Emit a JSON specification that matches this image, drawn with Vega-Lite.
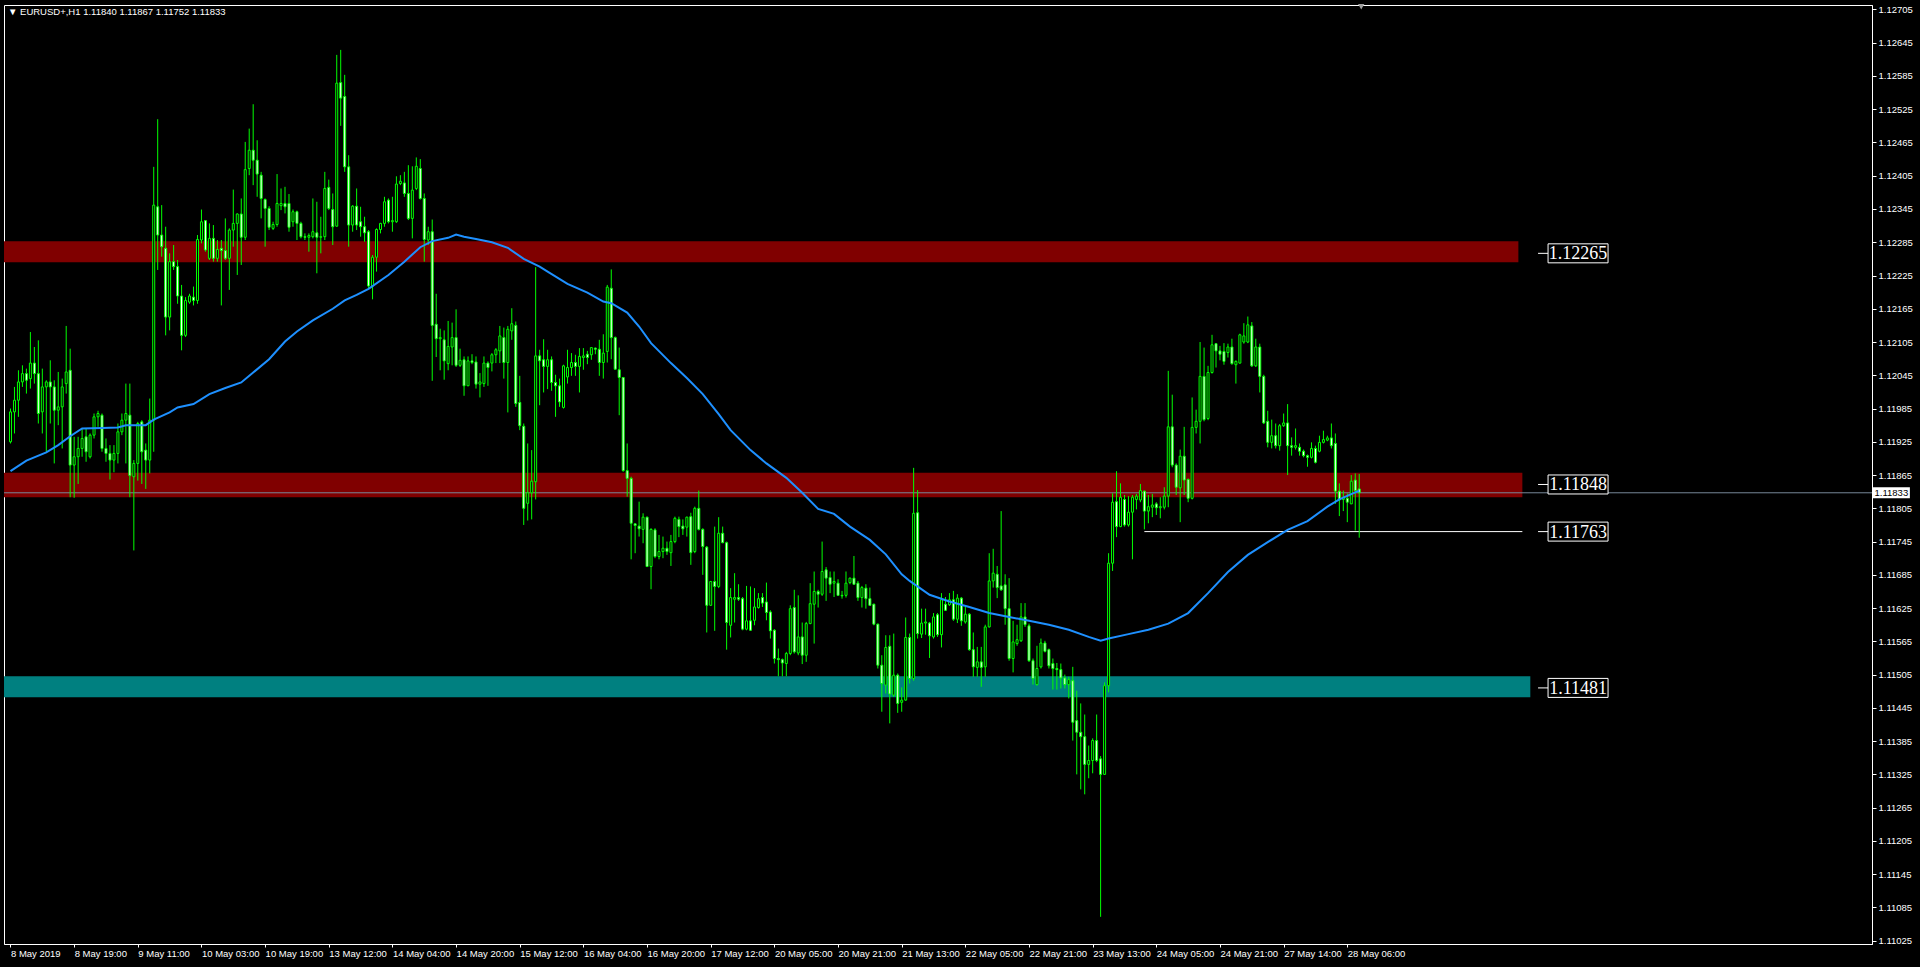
{
"$schema": "https://vega.github.io/schema/vega-lite/v6.json",
"width": 1868,
"height": 939,
"autosize": {"type": "none"},
"padding": {"left": 4, "top": 5, "right": 48, "bottom": 23},
"background": "#000000",
"config": {"view": {"stroke": "#ffffff", "strokeWidth": 1}, "font": "Liberation Sans",
 "axis": {"domainColor": "#ffffff", "tickColor": "#ffffff", "labelColor": "#ffffff", "labelFont": "Liberation Sans", "labelFontSize": 9.5, "grid": false, "labelOverlap": false, "titleOpacity": 0}},
"title": {"text": "▼ EURUSD+,H1 1.11840 1.11867 1.11752 1.11833", "anchor": "start", "frame": "group", "orient": "top", "offset": 0, "baseline": "middle", "dx": 4, "dy": 18, "color": "#ffffff", "font": "Liberation Sans", "fontSize": 9.5, "fontWeight": "normal"},
"datasets": {
"zones": [
{"kind": "resistance", "lo": 1.12249, "hi": 1.12287, "t1": -2, "t2": 379},
{"kind": "resistance", "lo": 1.11825, "hi": 1.11869, "t1": -2, "t2": 380},
{"kind": "support", "lo": 1.11464, "hi": 1.11502, "t1": -2, "t2": 382}
],
"lines": [{"t1": 285, "t2": 380, "p": 1.11763}],
"price": [{"p": 1.11833, "label": "1.11833"}],
"shift": [{"t": 339.5, "p": 1.1271}],
"tags": [
{"p": 1.12265, "label": "1.12265"},
{"p": 1.11848, "label": "1.11848"},
{"p": 1.11763, "label": "1.11763"},
{"p": 1.11481, "label": "1.11481"}
],
"ma": [
{"i":0,"v":1.11872},{"i":4,"v":1.11891},{"i":9,"v":1.11906},{"i":12,"v":1.11919},{"i":15,"v":1.11935},{"i":18,"v":1.11949},{"i":23,"v":1.11950},{"i":27,"v":1.11951},{"i":29,"v":1.11955},{"i":34,"v":1.11955},{"i":36,"v":1.11965},{"i":40,"v":1.11978},{"i":42,"v":1.11987},{"i":46,"v":1.11993},{"i":50,"v":1.12011},{"i":54,"v":1.12022},{"i":58,"v":1.12032},{"i":61,"v":1.12050},{"i":65,"v":1.12074},{"i":69,"v":1.12106},{"i":72,"v":1.12124},{"i":76,"v":1.12144},{"i":81,"v":1.12165},{"i":84,"v":1.12180},{"i":87,"v":1.12190},{"i":90,"v":1.12201},{"i":95,"v":1.12226},{"i":99,"v":1.12250},{"i":103,"v":1.12276},{"i":106,"v":1.12287},{"i":110,"v":1.12293},{"i":112,"v":1.12299},{"i":114,"v":1.12295},{"i":117,"v":1.12291},{"i":121,"v":1.12285},{"i":125,"v":1.12275},{"i":129,"v":1.12255},{"i":133,"v":1.12241},{"i":135,"v":1.12232},{"i":140,"v":1.12210},{"i":145,"v":1.12194},{"i":149,"v":1.12178},{"i":151,"v":1.12175},{"i":155,"v":1.12158},{"i":158,"v":1.12133},{"i":161,"v":1.12103},{"i":166,"v":1.12067},{"i":170,"v":1.12040},{"i":174,"v":1.12011},{"i":178,"v":1.11975},{"i":181,"v":1.11946},{"i":186,"v":1.11910},{"i":190,"v":1.11886},{"i":195,"v":1.11860},{"i":199,"v":1.11833},{"i":203,"v":1.11804},{"i":207,"v":1.11795},{"i":211,"v":1.11772},{"i":216,"v":1.11748},{"i":220,"v":1.11722},{"i":224,"v":1.11686},{"i":226,"v":1.11674},{"i":231,"v":1.11649},{"i":236,"v":1.11637},{"i":241,"v":1.11627},{"i":246,"v":1.11616},{"i":251,"v":1.11609},{"i":256,"v":1.11602},{"i":261,"v":1.11595},{"i":266,"v":1.11586},{"i":271,"v":1.11573},{"i":274,"v":1.11566},{"i":276,"v":1.11570},{"i":281,"v":1.11578},{"i":286,"v":1.11586},{"i":291,"v":1.11597},{"i":296,"v":1.11616},{"i":301,"v":1.11652},{"i":306,"v":1.11690},{"i":311,"v":1.11721},{"i":316,"v":1.11744},{"i":321,"v":1.11766},{"i":326,"v":1.11782},{"i":331,"v":1.11808},{"i":334,"v":1.11821},{"i":339,"v":1.11837}
],
"bars": [
{"i":0,"o":1.11925,"h":1.11985,"l":1.11922,"c":1.11979},
{"i":1,"o":1.11979,"h":1.12024,"l":1.11940,"c":1.12000},
{"i":2,"o":1.12000,"h":1.12054,"l":1.11970,"c":1.12033},
{"i":3,"o":1.12033,"h":1.12063,"l":1.12024,"c":1.12048},
{"i":4,"o":1.12048,"h":1.12057,"l":1.12012,"c":1.12036},
{"i":5,"o":1.12039,"h":1.12123,"l":1.12021,"c":1.12067},
{"i":6,"o":1.12067,"h":1.12096,"l":1.12030,"c":1.12048},
{"i":7,"o":1.12048,"h":1.12108,"l":1.11958,"c":1.11976},
{"i":8,"o":1.11979,"h":1.12057,"l":1.11940,"c":1.12024},
{"i":9,"o":1.12024,"h":1.12036,"l":1.11907,"c":1.12033},
{"i":10,"o":1.12033,"h":1.12072,"l":1.11958,"c":1.12024},
{"i":11,"o":1.12024,"h":1.12036,"l":1.11886,"c":1.11982},
{"i":12,"o":1.11982,"h":1.12051,"l":1.11955,"c":1.11988},
{"i":13,"o":1.11988,"h":1.12039,"l":1.11913,"c":1.12024},
{"i":14,"o":1.12030,"h":1.12134,"l":1.12012,"c":1.12051},
{"i":15,"o":1.12054,"h":1.12093,"l":1.11825,"c":1.11883},
{"i":16,"o":1.11883,"h":1.11934,"l":1.11824,"c":1.11898},
{"i":17,"o":1.11898,"h":1.11934,"l":1.11849,"c":1.11913},
{"i":18,"o":1.11913,"h":1.11949,"l":1.11898,"c":1.11931},
{"i":19,"o":1.11934,"h":1.11949,"l":1.11889,"c":1.11907},
{"i":20,"o":1.11898,"h":1.11940,"l":1.11895,"c":1.11937},
{"i":21,"o":1.11937,"h":1.11976,"l":1.11931,"c":1.11970},
{"i":22,"o":1.11970,"h":1.11981,"l":1.11952,"c":1.11976},
{"i":23,"o":1.11973,"h":1.11976,"l":1.11907,"c":1.11913},
{"i":24,"o":1.11913,"h":1.11931,"l":1.11889,"c":1.11904},
{"i":25,"o":1.11904,"h":1.11919,"l":1.11857,"c":1.11892},
{"i":26,"o":1.11892,"h":1.11919,"l":1.11870,"c":1.11904},
{"i":27,"o":1.11904,"h":1.11958,"l":1.11886,"c":1.11943},
{"i":28,"o":1.11943,"h":1.11976,"l":1.11937,"c":1.11964},
{"i":29,"o":1.11964,"h":1.12030,"l":1.11886,"c":1.11976},
{"i":30,"o":1.11973,"h":1.12030,"l":1.11825,"c":1.11864},
{"i":31,"o":1.11862,"h":1.11892,"l":1.11729,"c":1.11886},
{"i":32,"o":1.11886,"h":1.11961,"l":1.11855,"c":1.11958},
{"i":33,"o":1.11961,"h":1.11964,"l":1.11849,"c":1.11907},
{"i":34,"o":1.11910,"h":1.11922,"l":1.11840,"c":1.11892},
{"i":35,"o":1.11892,"h":1.12003,"l":1.11868,"c":1.11964},
{"i":36,"o":1.11964,"h":1.12421,"l":1.11907,"c":1.12352},
{"i":37,"o":1.12349,"h":1.12507,"l":1.12235,"c":1.12298},
{"i":38,"o":1.12298,"h":1.12352,"l":1.12259,"c":1.12277},
{"i":39,"o":1.12274,"h":1.12313,"l":1.12117,"c":1.12150},
{"i":40,"o":1.12150,"h":1.12265,"l":1.12126,"c":1.12250},
{"i":41,"o":1.12250,"h":1.12280,"l":1.12235,"c":1.12241},
{"i":42,"o":1.12241,"h":1.12253,"l":1.12174,"c":1.12188},
{"i":43,"o":1.12188,"h":1.12208,"l":1.12090,"c":1.12117},
{"i":44,"o":1.12117,"h":1.12186,"l":1.12114,"c":1.12180},
{"i":45,"o":1.12177,"h":1.12192,"l":1.12174,"c":1.12188},
{"i":46,"o":1.12186,"h":1.12205,"l":1.12171,"c":1.12180},
{"i":47,"o":1.12180,"h":1.12298,"l":1.12174,"c":1.12290},
{"i":48,"o":1.12289,"h":1.12344,"l":1.12283,"c":1.12322},
{"i":49,"o":1.12324,"h":1.12325,"l":1.12268,"c":1.12271},
{"i":50,"o":1.12256,"h":1.12319,"l":1.12253,"c":1.12292},
{"i":51,"o":1.12292,"h":1.12316,"l":1.12250,"c":1.12256},
{"i":52,"o":1.12256,"h":1.12289,"l":1.12250,"c":1.12272},
{"i":53,"o":1.12274,"h":1.12289,"l":1.12171,"c":1.12270},
{"i":54,"o":1.12270,"h":1.12328,"l":1.12253,"c":1.12256},
{"i":55,"o":1.12256,"h":1.12310,"l":1.12199,"c":1.12307},
{"i":56,"o":1.12307,"h":1.12380,"l":1.12277,"c":1.12319},
{"i":57,"o":1.12319,"h":1.12337,"l":1.12226,"c":1.12336},
{"i":58,"o":1.12336,"h":1.12364,"l":1.12244,"c":1.12294},
{"i":59,"o":1.12294,"h":1.12466,"l":1.12289,"c":1.12416},
{"i":60,"o":1.12418,"h":1.12490,"l":1.12406,"c":1.12451},
{"i":61,"o":1.12451,"h":1.12534,"l":1.12388,"c":1.12433},
{"i":62,"o":1.12433,"h":1.12469,"l":1.12367,"c":1.12408},
{"i":63,"o":1.12406,"h":1.12412,"l":1.12328,"c":1.12364},
{"i":64,"o":1.12362,"h":1.12364,"l":1.12277,"c":1.12346},
{"i":65,"o":1.12346,"h":1.12350,"l":1.12307,"c":1.12312},
{"i":66,"o":1.12310,"h":1.12322,"l":1.12307,"c":1.12317},
{"i":67,"o":1.12317,"h":1.12408,"l":1.12313,"c":1.12355},
{"i":68,"o":1.12351,"h":1.12382,"l":1.12343,"c":1.12355},
{"i":69,"o":1.12355,"h":1.12385,"l":1.12337,"c":1.12349},
{"i":70,"o":1.12355,"h":1.12372,"l":1.12304,"c":1.12312},
{"i":71,"o":1.12322,"h":1.12344,"l":1.12313,"c":1.12340},
{"i":72,"o":1.12340,"h":1.12342,"l":1.12289,"c":1.12319},
{"i":73,"o":1.12319,"h":1.12322,"l":1.12292,"c":1.12295},
{"i":74,"o":1.12295,"h":1.12301,"l":1.12289,"c":1.12294},
{"i":75,"o":1.12294,"h":1.12301,"l":1.12268,"c":1.12297},
{"i":76,"o":1.12295,"h":1.12364,"l":1.12292,"c":1.12304},
{"i":77,"o":1.12302,"h":1.12358,"l":1.12229,"c":1.12294},
{"i":78,"o":1.12294,"h":1.12331,"l":1.12265,"c":1.12295},
{"i":79,"o":1.12295,"h":1.12412,"l":1.12289,"c":1.12382},
{"i":80,"o":1.12384,"h":1.12398,"l":1.12343,"c":1.12346},
{"i":81,"o":1.12344,"h":1.12373,"l":1.12280,"c":1.12313},
{"i":82,"o":1.12314,"h":1.12623,"l":1.12313,"c":1.12572},
{"i":83,"o":1.12573,"h":1.12632,"l":1.12495,"c":1.12545},
{"i":84,"o":1.12548,"h":1.12587,"l":1.12412,"c":1.12421},
{"i":85,"o":1.12421,"h":1.12442,"l":1.12277,"c":1.12316},
{"i":86,"o":1.12316,"h":1.12352,"l":1.12304,"c":1.12350},
{"i":87,"o":1.12350,"h":1.12382,"l":1.12307,"c":1.12316},
{"i":88,"o":1.12322,"h":1.12349,"l":1.12295,"c":1.12313},
{"i":89,"o":1.12313,"h":1.12331,"l":1.12286,"c":1.12302},
{"i":90,"o":1.12304,"h":1.12307,"l":1.12202,"c":1.12206},
{"i":91,"o":1.12206,"h":1.12262,"l":1.12182,"c":1.12258},
{"i":92,"o":1.12258,"h":1.12310,"l":1.12232,"c":1.12308},
{"i":93,"o":1.12308,"h":1.12320,"l":1.12301,"c":1.12319},
{"i":94,"o":1.12319,"h":1.12367,"l":1.12313,"c":1.12358},
{"i":95,"o":1.12361,"h":1.12364,"l":1.12319,"c":1.12322},
{"i":96,"o":1.12322,"h":1.12367,"l":1.12304,"c":1.12324},
{"i":97,"o":1.12322,"h":1.12404,"l":1.12320,"c":1.12390},
{"i":98,"o":1.12391,"h":1.12406,"l":1.12388,"c":1.12395},
{"i":99,"o":1.12392,"h":1.12412,"l":1.12367,"c":1.12373},
{"i":100,"o":1.12373,"h":1.12424,"l":1.12325,"c":1.12328},
{"i":101,"o":1.12328,"h":1.12422,"l":1.12292,"c":1.12379},
{"i":102,"o":1.12382,"h":1.12438,"l":1.12379,"c":1.12422},
{"i":103,"o":1.12418,"h":1.12435,"l":1.12362,"c":1.12364},
{"i":104,"o":1.12364,"h":1.12373,"l":1.12250,"c":1.12290},
{"i":105,"o":1.12289,"h":1.12313,"l":1.12280,"c":1.12304},
{"i":106,"o":1.12304,"h":1.12326,"l":1.12035,"c":1.12135},
{"i":107,"o":1.12137,"h":1.12192,"l":1.12078,"c":1.12111},
{"i":108,"o":1.12111,"h":1.12129,"l":1.12054,"c":1.12113},
{"i":109,"o":1.12109,"h":1.12126,"l":1.12037,"c":1.12071},
{"i":110,"o":1.12066,"h":1.12143,"l":1.12054,"c":1.12097},
{"i":111,"o":1.12096,"h":1.12140,"l":1.12063,"c":1.12113},
{"i":112,"o":1.12113,"h":1.12164,"l":1.12060,"c":1.12063},
{"i":113,"o":1.12063,"h":1.12093,"l":1.12060,"c":1.12072},
{"i":114,"o":1.12073,"h":1.12079,"l":1.12008,"c":1.12026},
{"i":115,"o":1.12026,"h":1.12079,"l":1.12026,"c":1.12071},
{"i":116,"o":1.12071,"h":1.12083,"l":1.12065,"c":1.12068},
{"i":117,"o":1.12069,"h":1.12079,"l":1.12021,"c":1.12029},
{"i":118,"o":1.12029,"h":1.12049,"l":1.12005,"c":1.12033},
{"i":119,"o":1.12030,"h":1.12079,"l":1.12024,"c":1.12067},
{"i":120,"o":1.12067,"h":1.12070,"l":1.12026,"c":1.12059},
{"i":121,"o":1.12067,"h":1.12085,"l":1.12052,"c":1.12082},
{"i":122,"o":1.12082,"h":1.12094,"l":1.12067,"c":1.12091},
{"i":123,"o":1.12089,"h":1.12134,"l":1.12067,"c":1.12116},
{"i":124,"o":1.12113,"h":1.12131,"l":1.12039,"c":1.12068},
{"i":125,"o":1.12068,"h":1.12134,"l":1.11978,"c":1.12128},
{"i":126,"o":1.12125,"h":1.12166,"l":1.12109,"c":1.12138},
{"i":127,"o":1.12135,"h":1.12142,"l":1.11988,"c":1.11994},
{"i":128,"o":1.11996,"h":1.12044,"l":1.11946,"c":1.11954},
{"i":129,"o":1.11953,"h":1.11958,"l":1.11775,"c":1.11805},
{"i":130,"o":1.11814,"h":1.11922,"l":1.11783,"c":1.11833},
{"i":131,"o":1.11833,"h":1.11910,"l":1.11785,"c":1.11854},
{"i":132,"o":1.11853,"h":1.12240,"l":1.11821,"c":1.12080},
{"i":133,"o":1.12080,"h":1.12091,"l":1.11991,"c":1.12071},
{"i":134,"o":1.12073,"h":1.12110,"l":1.12014,"c":1.12061},
{"i":135,"o":1.12061,"h":1.12091,"l":1.12020,"c":1.12073},
{"i":136,"o":1.12073,"h":1.12079,"l":1.12017,"c":1.12032},
{"i":137,"o":1.12032,"h":1.12046,"l":1.11970,"c":1.12026},
{"i":138,"o":1.12026,"h":1.12039,"l":1.11988,"c":1.11997},
{"i":139,"o":1.11987,"h":1.12064,"l":1.11985,"c":1.12062},
{"i":140,"o":1.12042,"h":1.12091,"l":1.12030,"c":1.12059},
{"i":141,"o":1.12059,"h":1.12085,"l":1.12044,"c":1.12068},
{"i":142,"o":1.12068,"h":1.12082,"l":1.12044,"c":1.12061},
{"i":143,"o":1.12061,"h":1.12094,"l":1.12014,"c":1.12079},
{"i":144,"o":1.12077,"h":1.12094,"l":1.12055,"c":1.12080},
{"i":145,"o":1.12083,"h":1.12089,"l":1.12065,"c":1.12077},
{"i":146,"o":1.12082,"h":1.12095,"l":1.12073,"c":1.12095},
{"i":147,"o":1.12094,"h":1.12095,"l":1.12083,"c":1.12092},
{"i":148,"o":1.12092,"h":1.12109,"l":1.12044,"c":1.12068},
{"i":149,"o":1.12068,"h":1.12119,"l":1.12039,"c":1.12085},
{"i":150,"o":1.12088,"h":1.12208,"l":1.12068,"c":1.12204},
{"i":151,"o":1.12202,"h":1.12236,"l":1.12074,"c":1.12113},
{"i":152,"o":1.12113,"h":1.12115,"l":1.12055,"c":1.12056},
{"i":153,"o":1.12055,"h":1.12095,"l":1.11973,"c":1.12041},
{"i":154,"o":1.12041,"h":1.12042,"l":1.11871,"c":1.11873},
{"i":155,"o":1.11873,"h":1.11922,"l":1.11826,"c":1.11859},
{"i":156,"o":1.11859,"h":1.11862,"l":1.11713,"c":1.11778},
{"i":157,"o":1.11777,"h":1.11778,"l":1.11724,"c":1.11774},
{"i":158,"o":1.11773,"h":1.11817,"l":1.11754,"c":1.11768},
{"i":159,"o":1.11767,"h":1.11796,"l":1.11742,"c":1.11789},
{"i":160,"o":1.11789,"h":1.11790,"l":1.11699,"c":1.11700},
{"i":161,"o":1.11700,"h":1.11769,"l":1.11659,"c":1.11767},
{"i":162,"o":1.11766,"h":1.11769,"l":1.11715,"c":1.11718},
{"i":163,"o":1.11718,"h":1.11757,"l":1.11713,"c":1.11727},
{"i":164,"o":1.11727,"h":1.11754,"l":1.11715,"c":1.11733},
{"i":165,"o":1.11733,"h":1.11745,"l":1.11721,"c":1.11727},
{"i":166,"o":1.11725,"h":1.11757,"l":1.11701,"c":1.11745},
{"i":167,"o":1.11745,"h":1.11790,"l":1.11742,"c":1.11787},
{"i":168,"o":1.11785,"h":1.11790,"l":1.11753,"c":1.11772},
{"i":169,"o":1.11773,"h":1.11785,"l":1.11757,"c":1.11768},
{"i":170,"o":1.11771,"h":1.11790,"l":1.11754,"c":1.11789},
{"i":171,"o":1.11790,"h":1.11797,"l":1.11703,"c":1.11725},
{"i":172,"o":1.11727,"h":1.11808,"l":1.11724,"c":1.11805},
{"i":173,"o":1.11805,"h":1.11837,"l":1.11765,"c":1.11767},
{"i":174,"o":1.11767,"h":1.11769,"l":1.11685,"c":1.11736},
{"i":175,"o":1.11735,"h":1.11737,"l":1.11581,"c":1.11630},
{"i":176,"o":1.11630,"h":1.11674,"l":1.11629,"c":1.11673},
{"i":177,"o":1.11673,"h":1.11772,"l":1.11584,"c":1.11664},
{"i":178,"o":1.11664,"h":1.11789,"l":1.11661,"c":1.11760},
{"i":179,"o":1.11760,"h":1.11772,"l":1.11742,"c":1.11743},
{"i":180,"o":1.11743,"h":1.11745,"l":1.11550,"c":1.11599},
{"i":181,"o":1.11594,"h":1.11661,"l":1.11572,"c":1.11644},
{"i":182,"o":1.11641,"h":1.11688,"l":1.11599,"c":1.11644},
{"i":183,"o":1.11644,"h":1.11668,"l":1.11638,"c":1.11641},
{"i":184,"o":1.11642,"h":1.11645,"l":1.11585,"c":1.11587},
{"i":185,"o":1.11587,"h":1.11665,"l":1.11585,"c":1.11602},
{"i":186,"o":1.11602,"h":1.11664,"l":1.11584,"c":1.11585},
{"i":187,"o":1.11603,"h":1.11661,"l":1.11594,"c":1.11627},
{"i":188,"o":1.11626,"h":1.11652,"l":1.11624,"c":1.11642},
{"i":189,"o":1.11644,"h":1.11652,"l":1.11627,"c":1.11634},
{"i":190,"o":1.11636,"h":1.11671,"l":1.11603,"c":1.11617},
{"i":191,"o":1.11618,"h":1.11621,"l":1.11570,"c":1.11584},
{"i":192,"o":1.11585,"h":1.11587,"l":1.11525,"c":1.11534},
{"i":193,"o":1.11534,"h":1.11552,"l":1.11502,"c":1.11532},
{"i":194,"o":1.11532,"h":1.11534,"l":1.11502,"c":1.11526},
{"i":195,"o":1.11525,"h":1.11546,"l":1.11502,"c":1.11543},
{"i":196,"o":1.11543,"h":1.11630,"l":1.11540,"c":1.11624},
{"i":197,"o":1.11626,"h":1.11658,"l":1.11543,"c":1.11546},
{"i":198,"o":1.11544,"h":1.11648,"l":1.11540,"c":1.11573},
{"i":199,"o":1.11573,"h":1.11599,"l":1.11524,"c":1.11540},
{"i":200,"o":1.11540,"h":1.11600,"l":1.11528,"c":1.11597},
{"i":201,"o":1.11597,"h":1.11670,"l":1.11596,"c":1.11633},
{"i":202,"o":1.11632,"h":1.11691,"l":1.11561,"c":1.11655},
{"i":203,"o":1.11655,"h":1.11658,"l":1.11626,"c":1.11650},
{"i":204,"o":1.11650,"h":1.11745,"l":1.11647,"c":1.11691},
{"i":205,"o":1.11694,"h":1.11699,"l":1.11638,"c":1.11679},
{"i":206,"o":1.11680,"h":1.11691,"l":1.11652,"c":1.11668},
{"i":207,"o":1.11670,"h":1.11691,"l":1.11645,"c":1.11673},
{"i":208,"o":1.11670,"h":1.11677,"l":1.11647,"c":1.11648},
{"i":209,"o":1.11648,"h":1.11656,"l":1.11642,"c":1.11647},
{"i":210,"o":1.11648,"h":1.11691,"l":1.11644,"c":1.11670},
{"i":211,"o":1.11671,"h":1.11680,"l":1.11668,"c":1.11679},
{"i":212,"o":1.11679,"h":1.11719,"l":1.11667,"c":1.11668},
{"i":213,"o":1.11670,"h":1.11674,"l":1.11638,"c":1.11644},
{"i":214,"o":1.11644,"h":1.11665,"l":1.11626,"c":1.11662},
{"i":215,"o":1.11661,"h":1.11668,"l":1.11624,"c":1.11642},
{"i":216,"o":1.11642,"h":1.11662,"l":1.11629,"c":1.11630},
{"i":217,"o":1.11632,"h":1.11633,"l":1.11594,"c":1.11596},
{"i":218,"o":1.11596,"h":1.11597,"l":1.11516,"c":1.11522},
{"i":219,"o":1.11522,"h":1.11540,"l":1.11438,"c":1.11489},
{"i":220,"o":1.11486,"h":1.11576,"l":1.11471,"c":1.11554},
{"i":221,"o":1.11556,"h":1.11576,"l":1.11417,"c":1.11470},
{"i":222,"o":1.11468,"h":1.11579,"l":1.11465,"c":1.11504},
{"i":223,"o":1.11504,"h":1.11507,"l":1.11436,"c":1.11453},
{"i":224,"o":1.11455,"h":1.11482,"l":1.11438,"c":1.11459},
{"i":225,"o":1.11459,"h":1.11608,"l":1.11458,"c":1.11572},
{"i":226,"o":1.11572,"h":1.11579,"l":1.11489,"c":1.11498},
{"i":227,"o":1.11498,"h":1.11878,"l":1.11494,"c":1.11796},
{"i":228,"o":1.11797,"h":1.11838,"l":1.11570,"c":1.11579},
{"i":229,"o":1.11578,"h":1.11624,"l":1.11571,"c":1.11598},
{"i":230,"o":1.11598,"h":1.11624,"l":1.11577,"c":1.11600},
{"i":231,"o":1.11598,"h":1.11600,"l":1.11535,"c":1.11575},
{"i":232,"o":1.11573,"h":1.11616,"l":1.11570,"c":1.11609},
{"i":233,"o":1.11613,"h":1.11616,"l":1.11573,"c":1.11577},
{"i":234,"o":1.11577,"h":1.11652,"l":1.11554,"c":1.11640},
{"i":235,"o":1.11632,"h":1.11645,"l":1.11620,"c":1.11621},
{"i":236,"o":1.11631,"h":1.11652,"l":1.11629,"c":1.11640},
{"i":237,"o":1.11640,"h":1.11656,"l":1.11602,"c":1.11605},
{"i":238,"o":1.11605,"h":1.11650,"l":1.11598,"c":1.11643},
{"i":239,"o":1.11643,"h":1.11645,"l":1.11593,"c":1.11602},
{"i":240,"o":1.11600,"h":1.11627,"l":1.11597,"c":1.11614},
{"i":241,"o":1.11614,"h":1.11616,"l":1.11548,"c":1.11550},
{"i":242,"o":1.11550,"h":1.11581,"l":1.11501,"c":1.11519},
{"i":243,"o":1.11518,"h":1.11555,"l":1.11501,"c":1.11528},
{"i":244,"o":1.11528,"h":1.11555,"l":1.11483,"c":1.11518},
{"i":245,"o":1.11519,"h":1.11595,"l":1.11501,"c":1.11591},
{"i":246,"o":1.11591,"h":1.11724,"l":1.11590,"c":1.11674},
{"i":247,"o":1.11674,"h":1.11732,"l":1.11662,"c":1.11688},
{"i":248,"o":1.11686,"h":1.11701,"l":1.11643,"c":1.11662},
{"i":249,"o":1.11665,"h":1.11800,"l":1.11656,"c":1.11658},
{"i":250,"o":1.11667,"h":1.11686,"l":1.11595,"c":1.11624},
{"i":251,"o":1.11624,"h":1.11679,"l":1.11530,"c":1.11534},
{"i":252,"o":1.11534,"h":1.11602,"l":1.11509,"c":1.11564},
{"i":253,"o":1.11561,"h":1.11595,"l":1.11557,"c":1.11568},
{"i":254,"o":1.11566,"h":1.11634,"l":1.11564,"c":1.11609},
{"i":255,"o":1.11609,"h":1.11634,"l":1.11591,"c":1.11595},
{"i":256,"o":1.11593,"h":1.11597,"l":1.11528,"c":1.11530},
{"i":257,"o":1.11530,"h":1.11534,"l":1.11487,"c":1.11498},
{"i":258,"o":1.11487,"h":1.11557,"l":1.11485,"c":1.11516},
{"i":259,"o":1.11519,"h":1.11570,"l":1.11516,"c":1.11562},
{"i":260,"o":1.11562,"h":1.11566,"l":1.11545,"c":1.11547},
{"i":261,"o":1.11550,"h":1.11552,"l":1.11516,"c":1.11521},
{"i":262,"o":1.11525,"h":1.11534,"l":1.11478,"c":1.11516},
{"i":263,"o":1.11516,"h":1.11526,"l":1.11478,"c":1.11514},
{"i":264,"o":1.11514,"h":1.11525,"l":1.11480,"c":1.11499},
{"i":265,"o":1.11499,"h":1.11505,"l":1.11480,"c":1.11487},
{"i":266,"o":1.11487,"h":1.11501,"l":1.11462,"c":1.11496},
{"i":267,"o":1.11494,"h":1.11519,"l":1.11386,"c":1.11419},
{"i":268,"o":1.11422,"h":1.11476,"l":1.11325,"c":1.11401},
{"i":269,"o":1.11401,"h":1.11453,"l":1.11298,"c":1.11393},
{"i":270,"o":1.11393,"h":1.11433,"l":1.11289,"c":1.11343},
{"i":271,"o":1.11343,"h":1.11377,"l":1.11318,"c":1.11350},
{"i":272,"o":1.11350,"h":1.11390,"l":1.11327,"c":1.11386},
{"i":273,"o":1.11386,"h":1.11433,"l":1.11347,"c":1.11350},
{"i":274,"o":1.11353,"h":1.11358,"l":1.11068,"c":1.11325},
{"i":275,"o":1.11325,"h":1.11491,"l":1.11324,"c":1.11485},
{"i":276,"o":1.11485,"h":1.11724,"l":1.11473,"c":1.11706},
{"i":277,"o":1.11706,"h":1.11832,"l":1.11692,"c":1.11816},
{"i":278,"o":1.11817,"h":1.11872,"l":1.11753,"c":1.11772},
{"i":279,"o":1.11772,"h":1.11850,"l":1.11771,"c":1.11825},
{"i":280,"o":1.11821,"h":1.11829,"l":1.11772,"c":1.11775},
{"i":281,"o":1.11775,"h":1.11827,"l":1.11772,"c":1.11798},
{"i":282,"o":1.11798,"h":1.11829,"l":1.11713,"c":1.11825},
{"i":283,"o":1.11821,"h":1.11831,"l":1.11803,"c":1.11827},
{"i":284,"o":1.11820,"h":1.11849,"l":1.11816,"c":1.11837},
{"i":285,"o":1.11836,"h":1.11837,"l":1.11767,"c":1.11800},
{"i":286,"o":1.11800,"h":1.11829,"l":1.11778,"c":1.11808},
{"i":287,"o":1.11807,"h":1.11831,"l":1.11789,"c":1.11811},
{"i":288,"o":1.11813,"h":1.11816,"l":1.11793,"c":1.11806},
{"i":289,"o":1.11806,"h":1.11825,"l":1.11787,"c":1.11808},
{"i":290,"o":1.11807,"h":1.11843,"l":1.11803,"c":1.11827},
{"i":291,"o":1.11827,"h":1.12053,"l":1.11807,"c":1.11952},
{"i":292,"o":1.11952,"h":1.12010,"l":1.11879,"c":1.11883},
{"i":293,"o":1.11883,"h":1.11886,"l":1.11829,"c":1.11843},
{"i":294,"o":1.11842,"h":1.11911,"l":1.11780,"c":1.11899},
{"i":295,"o":1.11899,"h":1.11952,"l":1.11829,"c":1.11856},
{"i":296,"o":1.11857,"h":1.11859,"l":1.11816,"c":1.11823},
{"i":297,"o":1.11823,"h":1.12005,"l":1.11821,"c":1.11951},
{"i":298,"o":1.11951,"h":1.11983,"l":1.11940,"c":1.11962},
{"i":299,"o":1.11962,"h":1.12105,"l":1.11922,"c":1.12043},
{"i":300,"o":1.12043,"h":1.12095,"l":1.11962,"c":1.11965},
{"i":301,"o":1.11967,"h":1.12062,"l":1.11964,"c":1.12050},
{"i":302,"o":1.12050,"h":1.12118,"l":1.12048,"c":1.12100},
{"i":303,"o":1.12102,"h":1.12103,"l":1.12059,"c":1.12089},
{"i":304,"o":1.12089,"h":1.12098,"l":1.12072,"c":1.12083},
{"i":305,"o":1.12088,"h":1.12103,"l":1.12064,"c":1.12070},
{"i":306,"o":1.12086,"h":1.12102,"l":1.12077,"c":1.12096},
{"i":307,"o":1.12096,"h":1.12111,"l":1.12064,"c":1.12066},
{"i":308,"o":1.12064,"h":1.12072,"l":1.12030,"c":1.12070},
{"i":309,"o":1.12067,"h":1.12120,"l":1.12066,"c":1.12118},
{"i":310,"o":1.12105,"h":1.12139,"l":1.12102,"c":1.12116},
{"i":311,"o":1.12105,"h":1.12151,"l":1.12103,"c":1.12136},
{"i":312,"o":1.12134,"h":1.12141,"l":1.12060,"c":1.12062},
{"i":313,"o":1.12062,"h":1.12111,"l":1.12060,"c":1.12096},
{"i":314,"o":1.12096,"h":1.12102,"l":1.12014,"c":1.12043},
{"i":315,"o":1.12043,"h":1.12046,"l":1.11957,"c":1.11959},
{"i":316,"o":1.11962,"h":1.11981,"l":1.11915,"c":1.11924},
{"i":317,"o":1.11924,"h":1.11965,"l":1.11913,"c":1.11936},
{"i":318,"o":1.11936,"h":1.11958,"l":1.11913,"c":1.11918},
{"i":319,"o":1.11918,"h":1.11957,"l":1.11909,"c":1.11954},
{"i":320,"o":1.11954,"h":1.11976,"l":1.11952,"c":1.11959},
{"i":321,"o":1.11959,"h":1.11993,"l":1.11865,"c":1.11918},
{"i":322,"o":1.11918,"h":1.11933,"l":1.11900,"c":1.11915},
{"i":323,"o":1.11915,"h":1.11949,"l":1.11911,"c":1.11918},
{"i":324,"o":1.11915,"h":1.11922,"l":1.11900,"c":1.11908},
{"i":325,"o":1.11908,"h":1.11911,"l":1.11897,"c":1.11900},
{"i":326,"o":1.11900,"h":1.11902,"l":1.11880,"c":1.11897},
{"i":327,"o":1.11897,"h":1.11924,"l":1.11895,"c":1.11913},
{"i":328,"o":1.11913,"h":1.11918,"l":1.11886,"c":1.11888},
{"i":329,"o":1.11908,"h":1.11936,"l":1.11906,"c":1.11924},
{"i":330,"o":1.11924,"h":1.11945,"l":1.11922,"c":1.11929},
{"i":331,"o":1.11928,"h":1.11936,"l":1.11926,"c":1.11932},
{"i":332,"o":1.11932,"h":1.11958,"l":1.11913,"c":1.11918},
{"i":333,"o":1.11922,"h":1.11940,"l":1.11813,"c":1.11836},
{"i":334,"o":1.11836,"h":1.11850,"l":1.11791,"c":1.11820},
{"i":335,"o":1.11821,"h":1.11837,"l":1.11800,"c":1.11825},
{"i":336,"o":1.11823,"h":1.11832,"l":1.11780,"c":1.11816},
{"i":337,"o":1.11813,"h":1.11865,"l":1.11813,"c":1.11854},
{"i":338,"o":1.11856,"h":1.11868,"l":1.11765,"c":1.11837},
{"i":339,"o":1.11840,"h":1.11867,"l":1.11752,"c":1.11833}
]
},
"layer": [
{
"data": {"name": "zones"},
"mark": {"type": "rect", "clip": true},
"encoding": {
"x": {"field": "t1", "type": "quantitative", "scale": {"domain": [-0.375, 466.625], "nice": false, "zero": false},
 "axis": {"orient": "bottom", "title": null, "values": [0,16,32,48,64,80,96,112,128,144,160,176,192,208,224,240,256,272,288,304,320,336], "labelExpr": "['8 May 2019','8 May 19:00','9 May 11:00','10 May 03:00','10 May 19:00','13 May 12:00','14 May 04:00','14 May 20:00','15 May 12:00','16 May 04:00','16 May 20:00','17 May 12:00','20 May 05:00','20 May 21:00','21 May 13:00','22 May 05:00','22 May 21:00','23 May 13:00','24 May 05:00','24 May 21:00','27 May 14:00','28 May 06:00'][round(datum.value/16)]", "tickSize": 3, "labelPadding": 1, "labelAlign": "left", "labelDx": -1}},
"x2": {"field": "t2"},
"y": {"field": "lo", "type": "quantitative", "scale": {"domain": [1.11019, 1.12713], "nice": false, "zero": false},
 "axis": {"orient": "right", "title": null, "format": ".5f", "values": [1.11025,1.11085,1.11145,1.11205,1.11265,1.11325,1.11385,1.11445,1.11505,1.11565,1.11625,1.11685,1.11745,1.11805,1.11865,1.11925,1.11985,1.12045,1.12105,1.12165,1.12225,1.12285,1.12345,1.12405,1.12465,1.12525,1.12585,1.12645,1.12705], "tickSize": 4, "labelPadding": 2}},
"y2": {"field": "hi"},
"color": {"field": "kind", "type": "nominal", "scale": {"domain": ["resistance", "support"], "range": ["#800000", "#008080"]}, "legend": null}
}
},
{
"data": {"name": "lines"},
"mark": {"type": "rule", "color": "#ffffff", "strokeWidth": 1},
"encoding": {
"x": {"field": "t1", "type": "quantitative", "scale": {"domain": [-0.375, 466.625], "nice": false, "zero": false},
 "axis": {"orient": "bottom", "title": null, "values": [0,16,32,48,64,80,96,112,128,144,160,176,192,208,224,240,256,272,288,304,320,336], "labelExpr": "['8 May 2019','8 May 19:00','9 May 11:00','10 May 03:00','10 May 19:00','13 May 12:00','14 May 04:00','14 May 20:00','15 May 12:00','16 May 04:00','16 May 20:00','17 May 12:00','20 May 05:00','20 May 21:00','21 May 13:00','22 May 05:00','22 May 21:00','23 May 13:00','24 May 05:00','24 May 21:00','27 May 14:00','28 May 06:00'][round(datum.value/16)]", "tickSize": 3, "labelPadding": 1, "labelAlign": "left", "labelDx": -1}},
"x2": {"field": "t2"},
"y": {"field": "p", "type": "quantitative", "scale": {"domain": [1.11019, 1.12713], "nice": false, "zero": false},
 "axis": {"orient": "right", "title": null, "format": ".5f", "values": [1.11025,1.11085,1.11145,1.11205,1.11265,1.11325,1.11385,1.11445,1.11505,1.11565,1.11625,1.11685,1.11745,1.11805,1.11865,1.11925,1.11985,1.12045,1.12105,1.12165,1.12225,1.12285,1.12345,1.12405,1.12465,1.12525,1.12585,1.12645,1.12705], "tickSize": 4, "labelPadding": 2}}
}
},
{
"data": {"name": "price"},
"mark": {"type": "rule", "color": "#778899", "strokeWidth": 1},
"encoding": {
"y": {"field": "p", "type": "quantitative", "scale": {"domain": [1.11019, 1.12713], "nice": false, "zero": false},
 "axis": {"orient": "right", "title": null, "format": ".5f", "values": [1.11025,1.11085,1.11145,1.11205,1.11265,1.11325,1.11385,1.11445,1.11505,1.11565,1.11625,1.11685,1.11745,1.11805,1.11865,1.11925,1.11985,1.12045,1.12105,1.12165,1.12225,1.12285,1.12345,1.12405,1.12465,1.12525,1.12585,1.12645,1.12705], "tickSize": 4, "labelPadding": 2}}
}
},
{
"data": {"name": "bars"},
"mark": {"type": "rule", "color": "#00ff00", "strokeWidth": 1},
"encoding": {
"x": {"field": "i", "type": "quantitative", "scale": {"domain": [-0.375, 466.625], "nice": false, "zero": false},
 "axis": {"orient": "bottom", "title": null, "values": [0,16,32,48,64,80,96,112,128,144,160,176,192,208,224,240,256,272,288,304,320,336], "labelExpr": "['8 May 2019','8 May 19:00','9 May 11:00','10 May 03:00','10 May 19:00','13 May 12:00','14 May 04:00','14 May 20:00','15 May 12:00','16 May 04:00','16 May 20:00','17 May 12:00','20 May 05:00','20 May 21:00','21 May 13:00','22 May 05:00','22 May 21:00','23 May 13:00','24 May 05:00','24 May 21:00','27 May 14:00','28 May 06:00'][round(datum.value/16)]", "tickSize": 3, "labelPadding": 1, "labelAlign": "left", "labelDx": -1}},
"y": {"field": "l", "type": "quantitative", "scale": {"domain": [1.11019, 1.12713], "nice": false, "zero": false},
 "axis": {"orient": "right", "title": null, "format": ".5f", "values": [1.11025,1.11085,1.11145,1.11205,1.11265,1.11325,1.11385,1.11445,1.11505,1.11565,1.11625,1.11685,1.11745,1.11805,1.11865,1.11925,1.11985,1.12045,1.12105,1.12165,1.12225,1.12285,1.12345,1.12405,1.12465,1.12525,1.12585,1.12645,1.12705], "tickSize": 4, "labelPadding": 2}},
"y2": {"field": "h"}
}
},
{
"data": {"name": "bars"},
"mark": {"type": "bar", "orient": "vertical", "width": 2, "stroke": "#00ff00", "strokeWidth": 1, "fillOpacity": 1},
"encoding": {
"x": {"field": "i", "type": "quantitative", "scale": {"domain": [-0.375, 466.625], "nice": false, "zero": false},
 "axis": {"orient": "bottom", "title": null, "values": [0,16,32,48,64,80,96,112,128,144,160,176,192,208,224,240,256,272,288,304,320,336], "labelExpr": "['8 May 2019','8 May 19:00','9 May 11:00','10 May 03:00','10 May 19:00','13 May 12:00','14 May 04:00','14 May 20:00','15 May 12:00','16 May 04:00','16 May 20:00','17 May 12:00','20 May 05:00','20 May 21:00','21 May 13:00','22 May 05:00','22 May 21:00','23 May 13:00','24 May 05:00','24 May 21:00','27 May 14:00','28 May 06:00'][round(datum.value/16)]", "tickSize": 3, "labelPadding": 1, "labelAlign": "left", "labelDx": -1}},
"y": {"field": "o", "type": "quantitative", "scale": {"domain": [1.11019, 1.12713], "nice": false, "zero": false},
 "axis": {"orient": "right", "title": null, "format": ".5f", "values": [1.11025,1.11085,1.11145,1.11205,1.11265,1.11325,1.11385,1.11445,1.11505,1.11565,1.11625,1.11685,1.11745,1.11805,1.11865,1.11925,1.11985,1.12045,1.12105,1.12165,1.12225,1.12285,1.12345,1.12405,1.12465,1.12525,1.12585,1.12645,1.12705], "tickSize": 4, "labelPadding": 2}},
"y2": {"field": "c"},
"fill": {"condition": {"test": "datum.c < datum.o", "value": "#ffffff"}, "value": "#000000"}
}
},
{
"data": {"name": "ma"},
"mark": {"type": "line", "color": "#1e90ff", "strokeWidth": 2},
"encoding": {
"x": {"field": "i", "type": "quantitative", "scale": {"domain": [-0.375, 466.625], "nice": false, "zero": false},
 "axis": {"orient": "bottom", "title": null, "values": [0,16,32,48,64,80,96,112,128,144,160,176,192,208,224,240,256,272,288,304,320,336], "labelExpr": "['8 May 2019','8 May 19:00','9 May 11:00','10 May 03:00','10 May 19:00','13 May 12:00','14 May 04:00','14 May 20:00','15 May 12:00','16 May 04:00','16 May 20:00','17 May 12:00','20 May 05:00','20 May 21:00','21 May 13:00','22 May 05:00','22 May 21:00','23 May 13:00','24 May 05:00','24 May 21:00','27 May 14:00','28 May 06:00'][round(datum.value/16)]", "tickSize": 3, "labelPadding": 1, "labelAlign": "left", "labelDx": -1}},
"y": {"field": "v", "type": "quantitative", "scale": {"domain": [1.11019, 1.12713], "nice": false, "zero": false},
 "axis": {"orient": "right", "title": null, "format": ".5f", "values": [1.11025,1.11085,1.11145,1.11205,1.11265,1.11325,1.11385,1.11445,1.11505,1.11565,1.11625,1.11685,1.11745,1.11805,1.11865,1.11925,1.11985,1.12045,1.12105,1.12165,1.12225,1.12285,1.12345,1.12405,1.12465,1.12525,1.12585,1.12645,1.12705], "tickSize": 4, "labelPadding": 2}}
}
},
{
"data": {"name": "shift"},
"mark": {"type": "point", "shape": "triangle-down", "size": 40, "filled": true, "fill": "#a0a0a0", "strokeWidth": 0, "opacity": 1},
"encoding": {
"x": {"field": "t", "type": "quantitative", "scale": {"domain": [-0.375, 466.625], "nice": false, "zero": false},
 "axis": {"orient": "bottom", "title": null, "values": [0,16,32,48,64,80,96,112,128,144,160,176,192,208,224,240,256,272,288,304,320,336], "labelExpr": "['8 May 2019','8 May 19:00','9 May 11:00','10 May 03:00','10 May 19:00','13 May 12:00','14 May 04:00','14 May 20:00','15 May 12:00','16 May 04:00','16 May 20:00','17 May 12:00','20 May 05:00','20 May 21:00','21 May 13:00','22 May 05:00','22 May 21:00','23 May 13:00','24 May 05:00','24 May 21:00','27 May 14:00','28 May 06:00'][round(datum.value/16)]", "tickSize": 3, "labelPadding": 1, "labelAlign": "left", "labelDx": -1}},
"y": {"field": "p", "type": "quantitative", "scale": {"domain": [1.11019, 1.12713], "nice": false, "zero": false},
 "axis": {"orient": "right", "title": null, "format": ".5f", "values": [1.11025,1.11085,1.11145,1.11205,1.11265,1.11325,1.11385,1.11445,1.11505,1.11565,1.11625,1.11685,1.11745,1.11805,1.11865,1.11925,1.11985,1.12045,1.12105,1.12165,1.12225,1.12285,1.12345,1.12405,1.12465,1.12525,1.12585,1.12645,1.12705], "tickSize": 4, "labelPadding": 2}}
}
},
{
"data": {"name": "tags"},
"mark": {"type": "point", "shape": "M-4,0H-3M-3,-0.95H3V0.95H-3Z", "size": 400, "filled": true, "fill": "#000000", "stroke": "#ffffff", "strokeWidth": 1, "opacity": 1, "fillOpacity": 1, "strokeOpacity": 1},
"encoding": {
"x": {"datum": 394, "type": "quantitative",
 "axis": {"orient": "bottom", "title": null, "values": [0,16,32,48,64,80,96,112,128,144,160,176,192,208,224,240,256,272,288,304,320,336], "labelExpr": "['8 May 2019','8 May 19:00','9 May 11:00','10 May 03:00','10 May 19:00','13 May 12:00','14 May 04:00','14 May 20:00','15 May 12:00','16 May 04:00','16 May 20:00','17 May 12:00','20 May 05:00','20 May 21:00','21 May 13:00','22 May 05:00','22 May 21:00','23 May 13:00','24 May 05:00','24 May 21:00','27 May 14:00','28 May 06:00'][round(datum.value/16)]", "tickSize": 3, "labelPadding": 1, "labelAlign": "left", "labelDx": -1}},
"y": {"field": "p", "type": "quantitative", "scale": {"domain": [1.11019, 1.12713], "nice": false, "zero": false},
 "axis": {"orient": "right", "title": null, "format": ".5f", "values": [1.11025,1.11085,1.11145,1.11205,1.11265,1.11325,1.11385,1.11445,1.11505,1.11565,1.11625,1.11685,1.11745,1.11805,1.11865,1.11925,1.11985,1.12045,1.12105,1.12165,1.12225,1.12285,1.12345,1.12405,1.12465,1.12525,1.12585,1.12645,1.12705], "tickSize": 4, "labelPadding": 2}}
}
},
{
"data": {"name": "tags"},
"mark": {"type": "text", "font": "Liberation Serif", "fontSize": 18, "color": "#ffffff", "align": "center", "baseline": "middle", "dy": 1},
"encoding": {
"x": {"datum": 394, "type": "quantitative",
 "axis": {"orient": "bottom", "title": null, "values": [0,16,32,48,64,80,96,112,128,144,160,176,192,208,224,240,256,272,288,304,320,336], "labelExpr": "['8 May 2019','8 May 19:00','9 May 11:00','10 May 03:00','10 May 19:00','13 May 12:00','14 May 04:00','14 May 20:00','15 May 12:00','16 May 04:00','16 May 20:00','17 May 12:00','20 May 05:00','20 May 21:00','21 May 13:00','22 May 05:00','22 May 21:00','23 May 13:00','24 May 05:00','24 May 21:00','27 May 14:00','28 May 06:00'][round(datum.value/16)]", "tickSize": 3, "labelPadding": 1, "labelAlign": "left", "labelDx": -1}},
"y": {"field": "p", "type": "quantitative", "scale": {"domain": [1.11019, 1.12713], "nice": false, "zero": false},
 "axis": {"orient": "right", "title": null, "format": ".5f", "values": [1.11025,1.11085,1.11145,1.11205,1.11265,1.11325,1.11385,1.11445,1.11505,1.11565,1.11625,1.11685,1.11745,1.11805,1.11865,1.11925,1.11985,1.12045,1.12105,1.12165,1.12225,1.12285,1.12345,1.12405,1.12465,1.12525,1.12585,1.12645,1.12705], "tickSize": 4, "labelPadding": 2}},
"text": {"field": "label"}
}
},
{
"data": {"name": "price"},
"mark": {"type": "point", "shape": "M-1.85,-0.55H1.85V0.55H-1.85Z", "size": 400, "filled": true, "fill": "#ffffff", "strokeWidth": 0, "opacity": 1},
"encoding": {
"x": {"datum": 472.75, "type": "quantitative",
 "axis": {"orient": "bottom", "title": null, "values": [0,16,32,48,64,80,96,112,128,144,160,176,192,208,224,240,256,272,288,304,320,336], "labelExpr": "['8 May 2019','8 May 19:00','9 May 11:00','10 May 03:00','10 May 19:00','13 May 12:00','14 May 04:00','14 May 20:00','15 May 12:00','16 May 04:00','16 May 20:00','17 May 12:00','20 May 05:00','20 May 21:00','21 May 13:00','22 May 05:00','22 May 21:00','23 May 13:00','24 May 05:00','24 May 21:00','27 May 14:00','28 May 06:00'][round(datum.value/16)]", "tickSize": 3, "labelPadding": 1, "labelAlign": "left", "labelDx": -1}},
"y": {"field": "p", "type": "quantitative", "scale": {"domain": [1.11019, 1.12713], "nice": false, "zero": false},
 "axis": {"orient": "right", "title": null, "format": ".5f", "values": [1.11025,1.11085,1.11145,1.11205,1.11265,1.11325,1.11385,1.11445,1.11505,1.11565,1.11625,1.11685,1.11745,1.11805,1.11865,1.11925,1.11985,1.12045,1.12105,1.12165,1.12225,1.12285,1.12345,1.12405,1.12465,1.12525,1.12585,1.12645,1.12705], "tickSize": 4, "labelPadding": 2}}
}
},
{
"data": {"name": "price"},
"mark": {"type": "text", "font": "Liberation Sans", "fontSize": 9.5, "color": "#000000", "align": "center", "baseline": "middle"},
"encoding": {
"x": {"datum": 472.75, "type": "quantitative",
 "axis": {"orient": "bottom", "title": null, "values": [0,16,32,48,64,80,96,112,128,144,160,176,192,208,224,240,256,272,288,304,320,336], "labelExpr": "['8 May 2019','8 May 19:00','9 May 11:00','10 May 03:00','10 May 19:00','13 May 12:00','14 May 04:00','14 May 20:00','15 May 12:00','16 May 04:00','16 May 20:00','17 May 12:00','20 May 05:00','20 May 21:00','21 May 13:00','22 May 05:00','22 May 21:00','23 May 13:00','24 May 05:00','24 May 21:00','27 May 14:00','28 May 06:00'][round(datum.value/16)]", "tickSize": 3, "labelPadding": 1, "labelAlign": "left", "labelDx": -1}},
"y": {"field": "p", "type": "quantitative", "scale": {"domain": [1.11019, 1.12713], "nice": false, "zero": false},
 "axis": {"orient": "right", "title": null, "format": ".5f", "values": [1.11025,1.11085,1.11145,1.11205,1.11265,1.11325,1.11385,1.11445,1.11505,1.11565,1.11625,1.11685,1.11745,1.11805,1.11865,1.11925,1.11985,1.12045,1.12105,1.12165,1.12225,1.12285,1.12345,1.12405,1.12465,1.12525,1.12585,1.12645,1.12705], "tickSize": 4, "labelPadding": 2}},
"text": {"field": "label"}
}
}
]
}
